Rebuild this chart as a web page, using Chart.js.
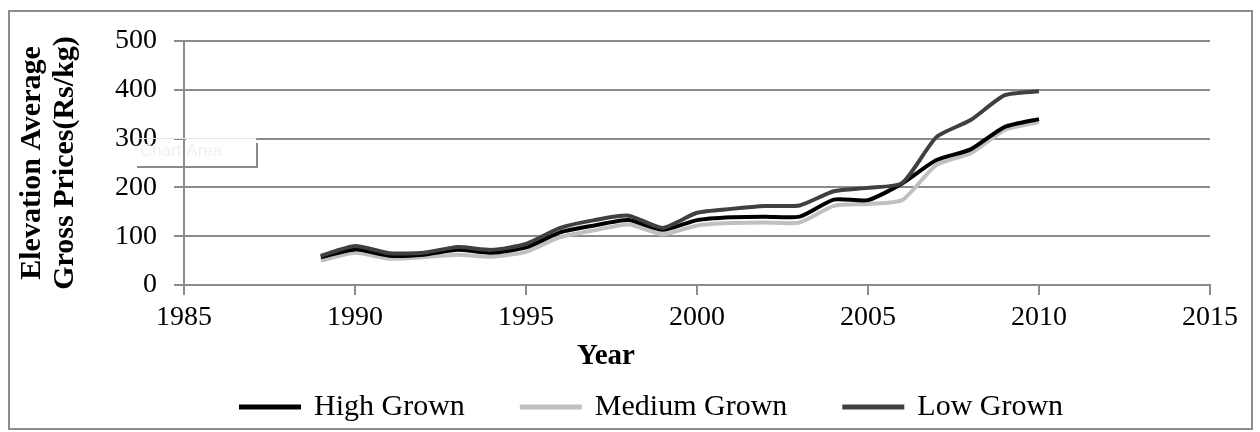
<!DOCTYPE html>
<html>
<head>
<meta charset="utf-8">
<script src="https://cdn.jsdelivr.net/npm/chart.js@4.4.0/dist/chart.umd.min.js"></script>
<style>
    html, body { margin: 0; padding: 0; background: #fff; }
    #wrap { width: 1260px; height: 432px; position: relative; }
</style>
</head>
<body>
<div id="wrap"><canvas id="graficaPrecios"></canvas></div>
<script>
// ==========================================
// 1. DATA
// ==========================================
const years = [1989, 1990, 1991, 1992, 1993, 1994, 1995, 1996, 1997, 1998, 1999,
               2000, 2001, 2002, 2003, 2004, 2005, 2006, 2007, 2008, 2009, 2010];
const highGrown   = [57, 73, 60, 62, 72, 66, 77, 108, 122, 133, 113, 133, 139, 140, 140, 175, 174, 208, 256, 278, 324, 340];
const mediumGrown = [50, 66, 54, 57, 62, 58, 68,  98, 112, 124, 104, 122, 127, 128, 128, 162, 166, 174, 246, 270, 318, 334];
const lowGrown    = [60, 80, 65, 66, 78, 72, 84, 117, 133, 142, 117, 148, 156, 162, 163, 192, 199, 209, 303, 338, 389, 397];
const xTicks = [1985, 1990, 1995, 2000, 2005, 2010, 2015];
const yTicks = [0, 100, 200, 300, 400, 500];

const serif = '"Liberation Serif", "Times New Roman", serif';
const gridColor = '#8c8c8c';
const legendPad = 57;

function puntos(serie) {
    return years.map((y, i) => ({ x: y, y: serie[i] }));
}

// ==========================================
// 2. EXTRAS: frame, "Year" label, tooltip ghost
// ==========================================
const marco = {
    id: 'marco',
    beforeDraw(chart) {
        const c = chart.ctx;
        c.save();
        c.fillStyle = '#fff';
        c.fillRect(0, 0, chart.width, chart.height);
        c.strokeStyle = '#8c8c8c';
        c.lineWidth = 2;
        c.strokeRect(9, 11, 1243, 418);
        c.restore();
    },
    afterDraw(chart) {
        const c = chart.ctx;
        const area = chart.chartArea;
        c.save();
        // axis title, offset to the left like the original
        c.font = 'bold 29px ' + serif;
        c.fillStyle = '#000';
        c.textAlign = 'center';
        c.textBaseline = 'middle';
        c.fillText('Year', area.left + 422, 357);

        // leftover "Chart Area" tooltip
        c.fillStyle = '#fff';
        c.fillRect(186, 134, 70, 9);
        c.strokeStyle = '#e6e6e6';
        c.lineWidth = 1;
        c.beginPath();
        c.moveTo(135, 138.5); c.lineTo(256, 138.5);
        c.stroke();
        c.font = '17px "Liberation Sans", sans-serif';
        c.fillStyle = '#f0f0f0';
        c.textAlign = 'left';
        c.fillText('Chart Area', 140, 151);
        c.strokeStyle = '#8a8a8a';
        c.lineWidth = 2;
        c.beginPath();
        c.moveTo(137, 167); c.lineTo(257, 167); c.lineTo(257, 143);
        c.stroke();
        c.restore();
    }
};

// ==========================================
// 3. CHART
// ==========================================
const ctx = document.getElementById('graficaPrecios').getContext('2d');
const grafica = new Chart(ctx, {
    type: 'line',
    data: {
        datasets: [
            { label: 'High Grown', data: puntos(highGrown), borderColor: '#000000', backgroundColor: '#000000', order: 2 },
            { label: 'Medium Grown', data: puntos(mediumGrown), borderColor: '#c0c0c0', backgroundColor: '#c0c0c0', order: 3 },
            { label: 'Low Grown', data: puntos(lowGrown), borderColor: '#404040', backgroundColor: '#404040', order: 1 }
        ]
    },
    options: {
        responsive: true,
        maintainAspectRatio: false,
        animation: false,
        datasets: {
            line: { borderWidth: 4, pointRadius: 0, tension: 0.2, fill: false }
        },
        layout: { padding: { left: 10, right: 50, top: 41, bottom: 0 } },
        plugins: {
            tooltip: { enabled: false },
            legend: {
                position: 'bottom',
                align: 'start',
                fullSize: false,
                maxHeight: 40 + legendPad,
                labels: {
                    font: { family: serif, size: 30 },
                    color: '#000',
                    boxWidth: 58,
                    boxHeight: 1,
                    padding: legendPad,
                    sort: (a, b) => a.datasetIndex - b.datasetIndex
                }
            }
        },
        scales: {
            x: {
                type: 'linear',
                min: xTicks[0],
                max: xTicks[xTicks.length - 1],
                afterBuildTicks: s => { s.ticks = xTicks.map(v => ({ value: v })); },
                afterFit: s => { s.height = 107 - legendPad; },
                ticks: {
                    color: '#000',
                    padding: 6,
                    font: { family: serif, size: 28 },
                    callback: v => String(v)
                },
                grid: { drawOnChartArea: false, drawTicks: true, tickLength: 10, color: gridColor, lineWidth: 2 },
                border: { display: true, color: gridColor, width: 2 }
            },
            y: {
                min: yTicks[0],
                max: yTicks[yTicks.length - 1],
                afterBuildTicks: s => { s.ticks = yTicks.map(v => ({ value: v })); },
                afterFit: s => { s.width = 174; },
                ticks: {
                    color: '#000',
                    padding: 17,
                    font: { family: serif, size: 28 },
                    callback: v => String(v)
                },
                grid: { drawTicks: true, tickLength: 10, color: gridColor, lineWidth: 2 },
                border: { display: true, color: gridColor, width: 2 },
                title: {
                    display: true,
                    text: ['Elevation Average', 'Gross Prices(Rs/kg)'],
                    color: '#000',
                    font: { family: serif, size: 30, weight: 'bold', lineHeight: 1.1 },
                    padding: { top: 6, bottom: 0 }
                }
            }
        }
    },
    plugins: [marco]
});
</script>
</body>
</html>
